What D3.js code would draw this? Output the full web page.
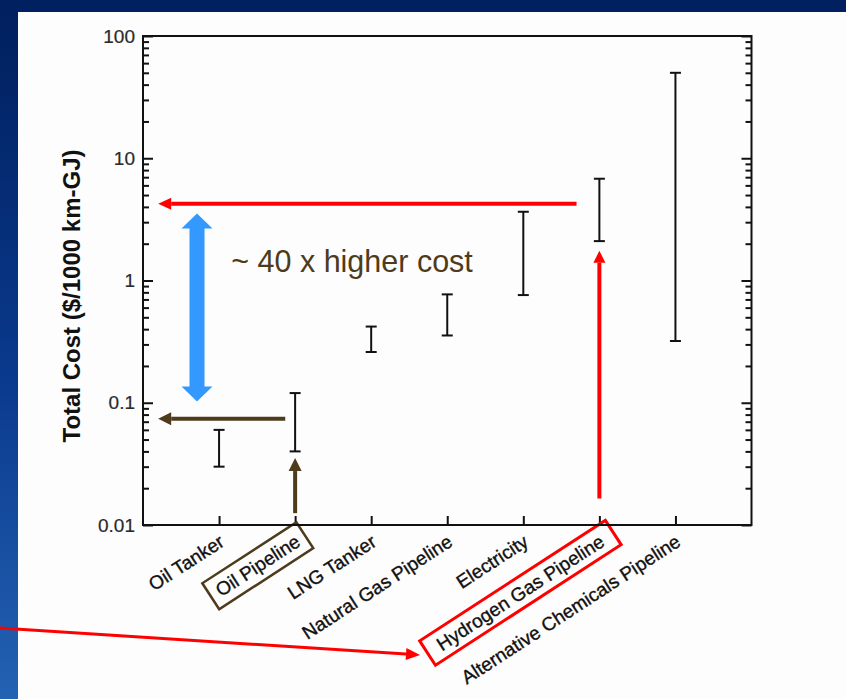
<!DOCTYPE html>
<html>
<head>
<meta charset="utf-8">
<script src="https://cdn.jsdelivr.net/npm/d3@7"></script>
<style>
  body { margin: 0; background: #fff; }
  svg { display: block; font-family: "Liberation Sans", Arial, sans-serif; }
</style>
</head>
<body>
<div id="chart"></div>
<script>
// data
const categories = ["Oil Tanker", "Oil Pipeline", "LNG Tanker", "Natural Gas Pipeline",
    "Electricity", "Hydrogen Gas Pipeline", "Alternative Chemicals Pipeline"];
const costLow  = [0.03, 0.04, 0.26, 0.355, 0.76, 2.1, 0.32];
const costHigh = [0.06, 0.12, 0.42, 0.77, 3.65, 6.8, 50];
const yTicks = [0.01, 0.1, 1, 10, 100];
const yTickLabels = ["0.01", "0.1", "1", "10", "100"];

// annotations (x in category units, y in cost units)
const redLevel = 4.25;
const brownLevel = 0.074;
const blueSpan = [0.1026, 3.53];
const noteText = "~ 40 x higher cost";

const WIDTH = 846;
const HEIGHT = 699;
const RED = "#ff0000";
const BROWN = "#4d3b1c";
const BLUE = "#3399ff";

const svg = d3.select("#chart")
    .append("svg")
    .attr("width", WIDTH)
    .attr("height", HEIGHT);

// slide background
const defs = svg.append("defs");
const grad = defs.append("linearGradient")
    .attr("id", "side")
    .attr("x1", 0).attr("y1", 0).attr("x2", 0).attr("y2", 1);
grad.append("stop").attr("offset", "0%").attr("stop-color", "#001f5c");
grad.append("stop").attr("offset", "55%").attr("stop-color", "#0a3a8e");
grad.append("stop").attr("offset", "100%").attr("stop-color", "#2462b3");

svg.append("rect").attr("width", WIDTH).attr("height", HEIGHT).attr("fill", "#00205f");
svg.append("rect").attr("x", 0).attr("y", 0).attr("width", 18).attr("height", HEIGHT).attr("fill", "url(#side)");
svg.append("rect").attr("x", 0).attr("y", 0).attr("width", WIDTH).attr("height", 12).attr("fill", "#00205f");
svg.append("rect").attr("x", 18).attr("y", 12).attr("width", WIDTH - 18).attr("height", HEIGHT - 12).attr("fill", "#fdfdfd");

// scales
const x = d3.scaleLinear().domain([0, 8]).range([143, 751.5]);
const y = d3.scaleLog().domain([0.01, 100]).range([525, 36]);

const minorTicks = [];
yTicks.slice(0, -1).forEach(t => {
    for (let k = 2; k <= 9; k++) minorTicks.push(t * k);
});

const plot = svg.append("g");

// left axis
const leftMajor = plot.append("g")
    .attr("transform", `translate(${x(0)},0)`)
    .call(d3.axisLeft(y).tickValues(yTicks).tickSize(-10).tickPadding(8)
        .tickFormat((d, i) => yTickLabels[i]));
const leftMinor = plot.append("g")
    .attr("transform", `translate(${x(0)},0)`)
    .call(d3.axisLeft(y).tickValues(minorTicks).tickSize(-6).tickFormat(""));

// right axis
const rightMajor = plot.append("g")
    .attr("transform", `translate(${x(8)},0)`)
    .call(d3.axisRight(y).tickValues(yTicks).tickSize(-10).tickFormat(""));
const rightMinor = plot.append("g")
    .attr("transform", `translate(${x(8)},0)`)
    .call(d3.axisRight(y).tickValues(minorTicks).tickSize(-6).tickFormat(""));

// bottom axis
const bottom = plot.append("g")
    .attr("transform", `translate(0,${y(0.01)})`)
    .call(d3.axisBottom(x).tickValues(d3.range(1, categories.length + 1)).tickSize(-9)
        .tickFormat(i => categories[i - 1]));

[leftMajor, leftMinor, rightMajor, rightMinor, bottom].forEach(g => {
    g.select(".domain").remove();
    g.selectAll(".tick line").attr("stroke", "#111").attr("stroke-width", 2);
});

leftMajor.selectAll("text")
    .attr("font-size", 19)
    .attr("fill", "#2a2a2a")
    .attr("stroke", "#2a2a2a")
    .attr("stroke-width", 0.2)
    .attr("font-family", "'Liberation Sans', Arial, sans-serif");

bottom.selectAll("text")
    .attr("x", 0).attr("y", 0).attr("dy", null)
    .attr("text-anchor", "end")
    .attr("transform", "translate(6,20) rotate(-33)")
    .attr("font-size", 19)
    .attr("fill", "#111")
    .attr("stroke", "#111")
    .attr("stroke-width", 0.35)
    .attr("font-family", "'Liberation Sans', Arial, sans-serif");

// frame
plot.append("rect")
    .attr("x", x(0)).attr("y", y(100))
    .attr("width", x(8) - x(0)).attr("height", y(0.01) - y(100))
    .attr("fill", "none").attr("stroke", "#111").attr("stroke-width", 2);

// boxes round two labels
const boxed = [{ idx: 1, color: BROWN, padX: 8, padY: 5, width: 2.5 },
               { idx: 5, color: RED, padX: 13, padY: 4, width: 3 }];
boxed.forEach(b => {
    const tick = bottom.selectAll(".tick").filter((d, i) => i === b.idx);
    const txt = tick.select("text");
    const bb = txt.node().getBBox();
    tick.append("rect")
        .attr("transform", txt.attr("transform"))
        .attr("x", bb.x - b.padX).attr("y", bb.y - b.padY)
        .attr("width", bb.width + 2 * b.padX).attr("height", bb.height + 2 * b.padY)
        .attr("fill", "none").attr("stroke", b.color).attr("stroke-width", b.width);
});

// error bars
const bars = plot.append("g");
const capHalf = 5.5;
categories.forEach((c, i) => {
    const cx = x(i + 1);
    bars.append("line")
        .attr("x1", cx).attr("x2", cx)
        .attr("y1", y(costLow[i])).attr("y2", y(costHigh[i]))
        .attr("stroke", "#111").attr("stroke-width", 2);
    [costLow[i], costHigh[i]].forEach(v => {
        bars.append("line")
            .attr("x1", cx - capHalf).attr("x2", cx + capHalf)
            .attr("y1", y(v)).attr("y2", y(v))
            .attr("stroke", "#111").attr("stroke-width", 2);
    });
});

// arrow helper: shaft plus solid triangular head at (x2,y2)
const arrow = (g, x1, y1, x2, y2, color, w, headLen, headHalf) => {
    const ang = Math.atan2(y2 - y1, x2 - x1);
    const bx = x2 - headLen * Math.cos(ang);
    const by = y2 - headLen * Math.sin(ang);
    g.append("line")
        .attr("x1", x1).attr("y1", y1).attr("x2", bx).attr("y2", by)
        .attr("stroke", color).attr("stroke-width", w);
    const px = -Math.sin(ang) * headHalf, py = Math.cos(ang) * headHalf;
    g.append("path")
        .attr("d", `M${x2},${y2}L${bx + px},${by + py}L${bx - px},${by - py}Z`)
        .attr("fill", color);
};

const notes = svg.append("g");

// red: hydrogen level back to the axis
arrow(notes, x(5.7), y(redLevel), x(0.2), y(redLevel), RED, 4, 13, 6);
// red: from label up to the hydrogen bar
arrow(notes, x(6.0), y(0.0165), x(6.0), y(1.75), RED, 4, 12, 6);
// red: long pointer from the left edge to the hydrogen label
arrow(notes, 0, 628, 420, 655, RED, 3, 14, 6);
// brown: oil pipeline level back to the axis
arrow(notes, x(1.87), y(brownLevel), x(0.2), y(brownLevel), BROWN, 4, 13, 6.5);
// brown: from label up to the oil pipeline bar
arrow(notes, x(2.0), y(0.0125), x(2.0), y(0.0353), BROWN, 4, 13, 6.5);

// blue double arrow
const bx = x(0.71);
const yTop = y(blueSpan[1]), yBot = y(blueSpan[0]);
const sh = 7.5, hh = 15.5, hl = 15;
notes.append("path")
    .attr("d", `M${bx},${yTop}L${bx + hh},${yTop + hl}L${bx + sh},${yTop + hl}` +
        `L${bx + sh},${yBot - hl}L${bx + hh},${yBot - hl}L${bx},${yBot}` +
        `L${bx - hh},${yBot - hl}L${bx - sh},${yBot - hl}L${bx - sh},${yTop + hl}` +
        `L${bx - hh},${yTop + hl}Z`)
    .attr("fill", BLUE);

notes.append("text")
    .attr("x", x(1.16)).attr("y", 272)
    .attr("font-size", 30.5)
    .attr("fill", BROWN)
    .text(noteText);

// y axis title
svg.append("text")
    .attr("transform", "translate(80,296) rotate(-90)")
    .attr("text-anchor", "middle")
    .attr("font-size", 24)
    .attr("font-weight", "bold")
    .attr("fill", "#111")
    .text("Total Cost ($/1000 km-GJ)");
</script>
</body>
</html>
